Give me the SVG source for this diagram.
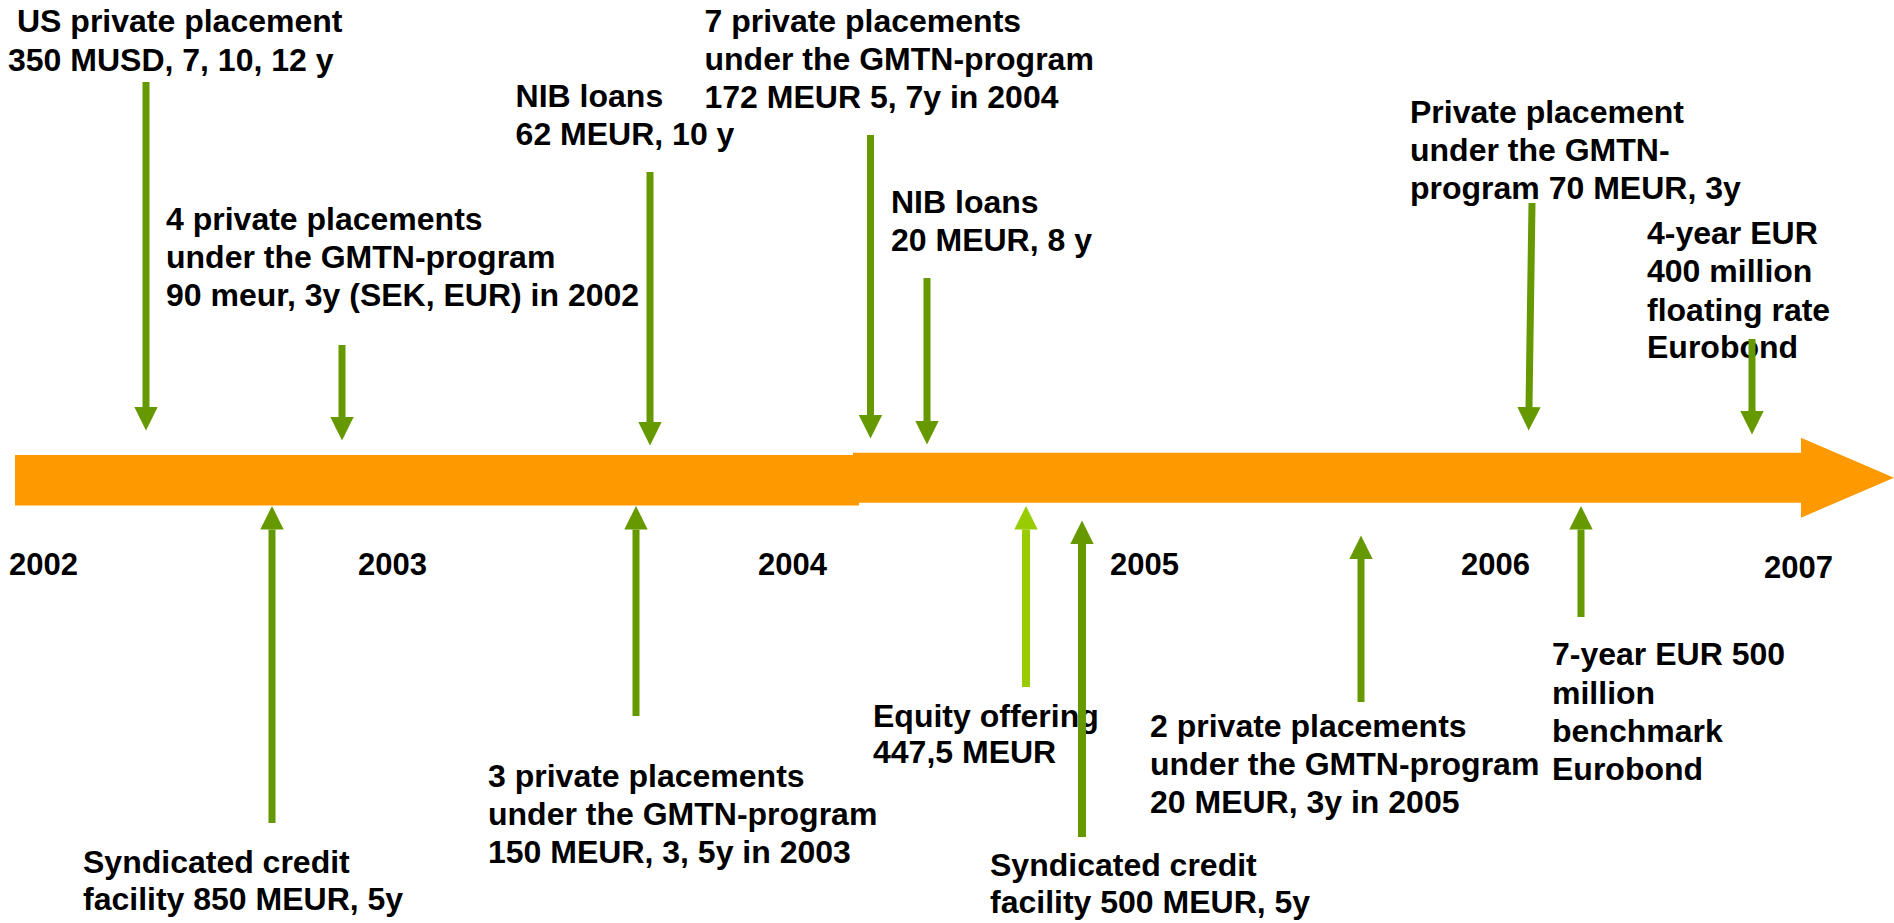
<svg xmlns="http://www.w3.org/2000/svg" width="1894" height="923" viewBox="0 0 1894 923">
<style>
text{font-family:"Liberation Sans",Arial,sans-serif;font-weight:bold;font-size:32px;fill:#000}
.yr{font-size:31px}
.c{stroke:#669900;stroke-width:7;fill:none}
.cl{stroke:#99cc00;stroke-width:8;fill:none}
</style>
<defs>
<marker id="h" markerUnits="userSpaceOnUse" markerWidth="24" markerHeight="24" refX="0" refY="11.7" orient="auto" viewBox="0 0 24 23.4">
<path d="M0,0 L23.5,11.7 L0,23.4 z" fill="#669900"/>
</marker>
<marker id="hl" markerUnits="userSpaceOnUse" markerWidth="24" markerHeight="24" refX="0" refY="11.7" orient="auto" viewBox="0 0 24 23.4">
<path d="M0,0 L23.5,11.7 L0,23.4 z" fill="#99cc00"/>
</marker>
</defs>
<rect width="1894" height="923" fill="#fff"/>
<g id="timeline" fill="#ff9900">
<rect x="15" y="455" width="844" height="50.5"/>
<polygon points="853,452.7 1801,452.7 1801,437.7 1894,477.7 1801,517.7 1801,502.7 853,502.7"/>
</g>
<g id="years" class="yr">
<text class="yr" x="9" y="575">2002</text>
<text class="yr" x="358" y="575">2003</text>
<text class="yr" x="758" y="575">2004</text>
<text class="yr" x="1110" y="575">2005</text>
<text class="yr" x="1461" y="575">2006</text>
<text class="yr" x="1764" y="578">2007</text>
</g>
<g id="n-us-pp"><text x="17" y="32">US private placement</text><text x="8" y="70.7">350 MUSD, 7, 10, 12 y</text></g>
<g id="n-4pp"><text x="166" y="230">4 private placements</text><text x="166" y="268">under the GMTN-program</text><text x="166" y="306">90 meur, 3y (SEK, EUR) in 2002</text></g>
<g id="n-nib62"><text x="515.6" y="107.3">NIB loans</text><text x="515.6" y="145">62 MEUR, 10 y</text></g>
<g id="n-7pp"><text x="704.5" y="31.7">7 private placements</text><text x="704.5" y="70">under the GMTN-program</text><text x="704.5" y="108.3">172 MEUR 5, 7y in 2004</text></g>
<g id="n-nib20"><text x="891" y="212.7">NIB loans</text><text x="891" y="250.7">20 MEUR, 8 y</text></g>
<g id="n-pp70"><text x="1410" y="122.5">Private placement</text><text x="1410" y="160.7">under the GMTN-</text><text x="1410" y="199">program 70 MEUR, 3y</text></g>
<g id="n-frn"><text x="1647" y="244">4-year EUR</text><text x="1647" y="282">400 million</text><text x="1647" y="320.7">floating rate</text><text x="1647" y="358.2">Eurobond</text></g>
<g id="n-synd850"><text x="83" y="872.7">Syndicated credit</text><text x="83" y="910">facility 850 MEUR, 5y</text></g>
<g id="n-3pp"><text x="488" y="786.7">3 private placements</text><text x="488" y="825">under the GMTN-program</text><text x="488" y="863.3">150 MEUR, 3, 5y in 2003</text></g>
<g id="n-equity"><text x="873" y="726.7">Equity offering</text><text x="873" y="763.3">447,5 MEUR</text></g>
<g id="n-synd500"><text x="990" y="876">Syndicated credit</text><text x="990" y="913.3">facility 500 MEUR, 5y</text></g>
<g id="n-2pp"><text x="1150" y="736.7">2 private placements</text><text x="1150" y="775">under the GMTN-program</text><text x="1150" y="812.7">20 MEUR, 3y in 2005</text></g>
<g id="n-benchmark"><text x="1552" y="665">7-year EUR 500</text><text x="1552" y="704">million</text><text x="1552" y="741.7">benchmark</text><text x="1552" y="780">Eurobond</text></g>
<g id="connectors">
<line class="c" x1="146" y1="82" x2="146" y2="407" marker-end="url(#h)"/>
<line class="c" x1="342" y1="345" x2="342" y2="417" marker-end="url(#h)"/>
<line class="c" x1="650" y1="172" x2="650" y2="422" marker-end="url(#h)"/>
<line class="c" x1="870.5" y1="135" x2="870.5" y2="415" marker-end="url(#h)"/>
<line class="c" x1="927" y1="278" x2="927" y2="421" marker-end="url(#h)"/>
<line class="c" x1="1532" y1="203" x2="1529" y2="407" marker-end="url(#h)"/>
<line class="c" x1="1752" y1="339" x2="1752" y2="411" marker-end="url(#h)"/>
<line class="c" x1="272" y1="823" x2="272" y2="529.5" marker-end="url(#h)"/>
<line class="c" x1="636" y1="716" x2="636" y2="529.5" marker-end="url(#h)"/>
<line class="cl" x1="1026" y1="687" x2="1026" y2="529.5" marker-end="url(#hl)"/>
<line class="c" x1="1082" y1="837" x2="1082" y2="544" marker-end="url(#h)" style="stroke-width:8"/>
<line class="c" x1="1361" y1="702" x2="1361" y2="559" marker-end="url(#h)"/>
<line class="c" x1="1581" y1="617" x2="1581" y2="529.5" marker-end="url(#h)"/>
</g>
</svg>
